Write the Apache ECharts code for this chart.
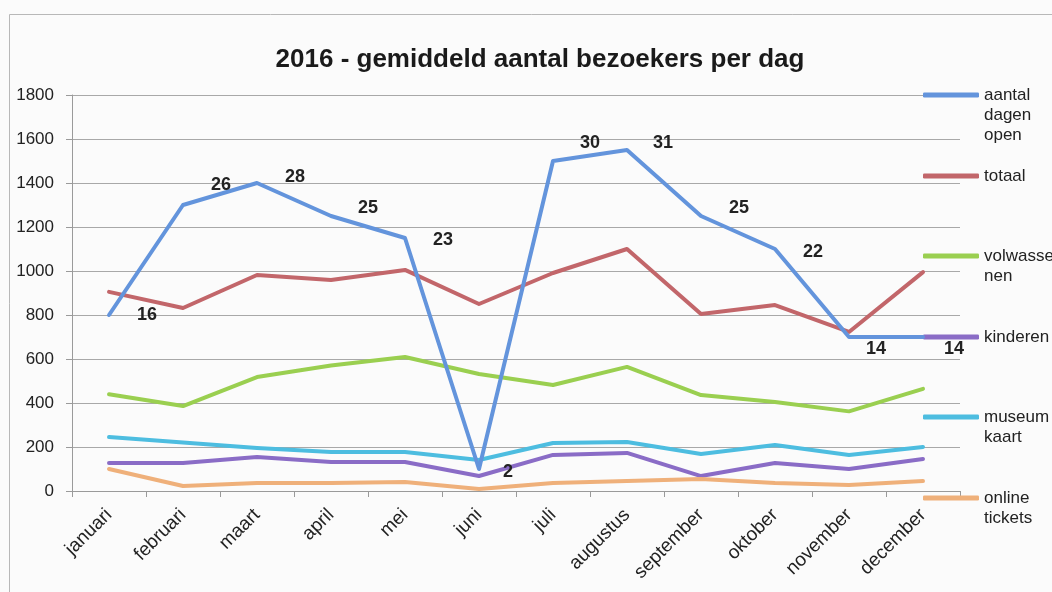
<!DOCTYPE html>
<html>
<head>
<meta charset="utf-8">
<style>
html,body{margin:0;padding:0;background:#fbfbfb;}
#chart{width:1052px;height:592px;}
</style>
<script src="https://cdn.jsdelivr.net/npm/echarts@6/dist/echarts.min.js"></script>
</head>
<body>
<div id="chart"></div>
<script>
const months = ['januari','februari','maart','april','mei','juni','juli','augustus','september','oktober','november','december'];
const yTicks = [0,200,400,600,800,1000,1200,1400,1600,1800];
const dagenOpen = [800,1300,1400,1250,1150,100,1500,1550,1250,1100,700,700];
const dagenLabels = [16,26,28,25,23,2,30,31,25,22,14,14];
const totaal = [905,832,982,959,1005,850,991,1100,805,845,723,995];
const volwassenen = [440,386,518,570,609,532,482,564,436,405,362,464];
const kinderen = [127,127,155,132,132,68,164,173,68,127,100,145];
const museumkaart = [245,220,195,177,177,141,218,223,168,209,164,200];
const onlineTickets = [100,23,36,36,41,9,36,45,55,36,27,45];

const names = ['aantal\ndagen\nopen','totaal','volwasse\nnen','kinderen','museum\nkaart','online\ntickets'];
const colors = ['#6394dc','#c2666a','#9acf50','#8a6cc6','#4dbde0','#efb07a'];
const values = [dagenOpen,totaal,volwassenen,kinderen,museumkaart,onlineTickets];

const chart = echarts.init(document.getElementById('chart'));
const font = '"Liberation Sans", Arial, sans-serif';

// label nudges (pixels, label centre relative to its point), as placed in the original
const labelNudge = [[38,0],[38,-20],[38,-6],[37,-8],[38,2],[29,3],[37,-18],[36,-7],[38,-8],[38,3],[27,12],[31,12]];

const series = values.map((v,i)=>({
  name: names[i],
  type: 'line',
  data: i===0 ? v.map((y,j)=>({value: y, label: {offset: labelNudge[j]}})) : v,
  symbol: 'circle',
  symbolSize: 0,
  showSymbol: i===0,
  z: i===0 ? 5 : 2,
  lineStyle: {color: colors[i], width: 4, cap: 'round', join: 'round'},
  itemStyle: {color: colors[i]},
  label: i===0 ? {
    show: true,
    position: 'inside',
    formatter: p => String(dagenLabels[p.dataIndex]),
    fontFamily: font, fontWeight: 'bold', fontSize: 18, color: '#222'
  } : {show:false}
}));

// vertical centre of each legend line in the picture
const legendIconY = [95,176,256,337,417,498];
const lineH = 20;
const legends = names.map((n,i)=>{
  const nl = n.split('\n').length;
  const total = 2*nl - 1;
  return {
    data: [n],
    left: 923,
    top: legendIconY[i] - total*lineH/2,
    padding: 0,
    orient: 'vertical',
    icon: 'roundRect',
    itemWidth: 56,
    itemHeight: 5,
    itemGap: 0,
    selectedMode: false,
    formatter: name => '\n'.repeat(nl-1) + name,
    textStyle: {fontFamily: font, fontSize: 17, color: '#222', lineHeight: lineH}
  };
});

chart.setOption({
  animation: false,
  backgroundColor: '#fbfbfb',
  title: {
    text: '2016 - gemiddeld aantal bezoekers per dag',
    left: 535, textAlign: 'center', top: 42,
    textStyle: {fontFamily: font, fontWeight: 'bold', fontSize: 26, color: '#1a1a1a'}
  },
  graphic: [{
    type: 'rect', left: 7, top: 12, silent: true,
    shape: {width: 1100, height: 700},
    style: {fill: 'none', stroke: '#b8b8b8', lineWidth: 1}
  }],
  legend: legends,
  grid: {left: 72, right: 92, top: 95, bottom: 101, containLabel: false},
  xAxis: {
    type: 'category',
    data: months,
    boundaryGap: true,
    axisLine: {lineStyle: {color: '#9a9a9a', width: 1}},
    axisTick: {show: true, alignWithLabel: false, length: 6, lineStyle: {color: '#9a9a9a'}},
    axisLabel: {rotate: 45, interval: 0, fontFamily: font, fontSize: 19, color: '#222', margin: 21}
  },
  yAxis: {
    type: 'value',
    min: yTicks[0], max: yTicks[yTicks.length-1], interval: 200,
    axisLine: {show: true, lineStyle: {color: '#9a9a9a'}},
    axisTick: {show: true, length: 6, lineStyle: {color: '#9a9a9a'}},
    splitLine: {lineStyle: {color: '#a8a8a8', width: 1}},
    axisLabel: {fontFamily: font, fontSize: 17, color: '#222', margin: 18, formatter: v => String(v)}
  },
  series: series
});
</script>
</body>
</html>
